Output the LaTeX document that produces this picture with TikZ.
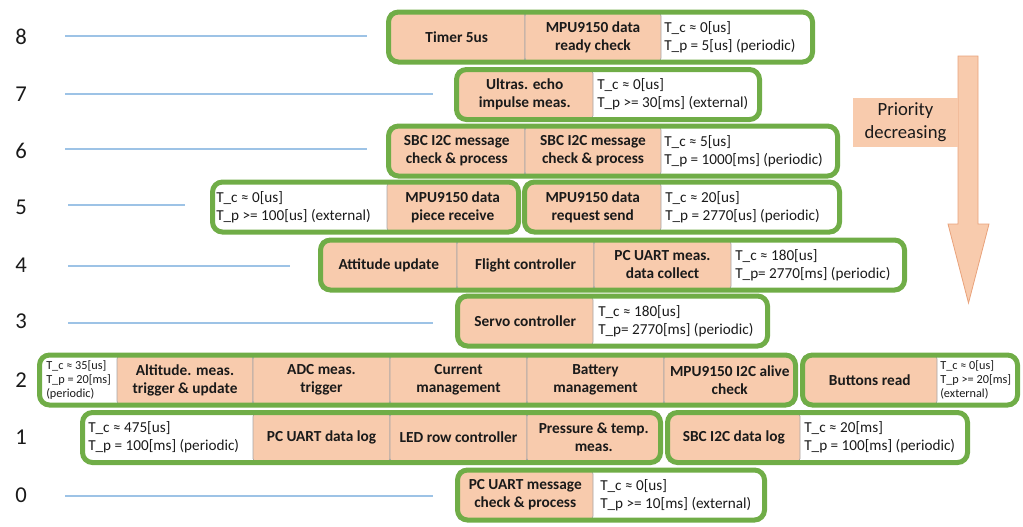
\documentclass[tikz,border=0pt]{standalone}
\usepackage{fontspec}
\setmainfont{Carlito}
\usetikzlibrary{calc}
\definecolor{gborder}{HTML}{70AD47}
\definecolor{ofill}{HTML}{F8CBAD}
\definecolor{oborder}{HTML}{E9A27B}
\definecolor{cdiv}{HTML}{A6A6A6}
\definecolor{bline}{HTML}{9DC3E6}
\definecolor{txt}{HTML}{1A1A1A}
\newcommand\MyCell[5]{%
  \pgfmathsetlengthmacro\mycw{(#3-#2)*0.75pt}%
  \node[cellbox, minimum width=\mycw] (#1) at ({(#2+#3)/2},#4) {#5};%
}
\newcommand\MyRow[4]{%
  \pgfmathsetlengthmacro\mybw{(#3-#2-5)*0.75pt}%
  \node[rowbox, minimum width=\mybw] (#1) at ({(#2+#3)/2},#4) {};%
}
\begin{document}
\begin{tikzpicture}[x=0.75pt,y=-0.75pt,
  cellbox/.style={fill=ofill, draw=cdiv, line width=0.5pt, rounded corners=3pt,
    minimum height=37.5pt, inner sep=0pt, align=center, text=txt,
    font=\fontsize{11.5}{13.5}\selectfont\bfseries},
  rowbox/.style={draw=gborder, line width=3.75pt, rounded corners=7.5pt,
    minimum height=37.5pt, inner sep=0pt},
  info/.style={anchor=west, align=left, inner sep=0pt, text=txt,
    font=\fontsize{11.4}{13.6}\selectfont},
  smallinfo/.style={anchor=west, align=left, inner sep=0pt, text=txt,
    font=\fontsize{9.2}{10.6}\selectfont},
  rowlabel/.style={inner sep=0pt, text=txt, font=\fontsize{17}{20}\selectfont},
  level/.style={draw=bline, line width=0.8pt}
]
\useasboundingbox (0,0) rectangle (1023,526);

% ---------- level lines ----------
\draw[level] (65,36) -- (367,36);
\draw[level] (65,94) -- (433,94);
\draw[level] (65,149) -- (367,149);
\draw[level] (68,205) -- (185,205);
\draw[level] (68,266) -- (290,266);
\draw[level] (68,323) -- (433,323);
\draw[level] (65,496) -- (433,496);

% ---------- row labels ----------
\node[rowlabel] (l8) at (21,37) {8};
\node[rowlabel] (l7) at (21,94.5) {7};
\node[rowlabel] (l6) at (21,151) {6};
\node[rowlabel] (l5) at (21,207) {5};
\node[rowlabel] (l4) at (21,265) {4};
\node[rowlabel] (l3) at (21,321) {3};
\node[rowlabel] (l2) at (21,380) {2};
\node[rowlabel] (l1) at (21,437.5) {1};
\node[rowlabel] (l0) at (21,495) {0};

% ---------- orange cells ----------
% row 8
\MyCell{c8a}{388.5}{525}{37}{Timer 5us}
\MyCell{c8b}{525}{661}{37}{MPU9150 data\\ready check}
% row 7
\MyCell{c7a}{456.5}{593}{94.5}{Ultras. echo\\impulse meas.}
% row 6
\MyCell{c6a}{388.5}{525}{151}{SBC I2C message\\check \& process}
\MyCell{c6b}{525}{661}{151}{SBC I2C message\\check \& process}
% row 5
\MyCell{c5a}{387}{518.5}{207}{MPU9150 data\\piece receive}
\MyCell{c5b}{524.5}{661}{207}{MPU9150 data\\request send}
% row 4
\MyCell{c4a}{320.5}{457}{265}{Attitude update}
\MyCell{c4b}{457}{594}{265}{Flight controller}
\MyCell{c4c}{594}{731}{265}{PC UART meas.\\data collect}
% row 3
\MyCell{c3a}{457.5}{593}{321}{Servo controller}
% row 2
\MyCell{c2a}{117}{253}{380}{Altitude. meas.\\trigger \& update}
\MyCell{c2b}{253}{390}{380}{ADC meas.\\trigger}
\MyCell{c2c}{390}{527}{380}{Current\\management}
\MyCell{c2d}{527}{664}{380}{Battery\\management}
\MyCell{c2e}{664}{795.5}{380}{MPU9150 I2C alive\\check}
\MyCell{c2f}{802.5}{937}{380}{Buttons read}
% row 1
\MyCell{c1a}{253}{390}{437.5}{PC UART data log}
\MyCell{c1b}{390}{527}{437.5}{LED row controller}
\MyCell{c1c}{527}{660.5}{437.5}{Pressure \& temp.\\meas.}
\MyCell{c1d}{667.5}{800}{437.5}{SBC I2C data log}
% row 0
\MyCell{c0a}{457.5}{593}{495}{PC UART message\\check \& process}

% ---------- green row frames ----------
\MyRow{r8}{386}{815}{37}
\MyRow{r7}{454}{762}{94.5}
\MyRow{r6}{386}{840}{151}
\MyRow{r5a}{210}{521}{207}
\MyRow{r5b}{522}{842}{207}
\MyRow{r4}{318}{907}{265}
\MyRow{r3}{455}{770}{321}
\MyRow{r2a}{37}{798}{380}
\MyRow{r2b}{800}{1020}{380}
\MyRow{r1a}{80}{663}{437.5}
\MyRow{r1b}{665}{970}{437.5}
\MyRow{r0}{455}{767}{495}

% ---------- timing texts ----------
\node[info] (t8) at (664,37) {T\_c ≈ 0[us]\\T\_p = 5[us] (periodic)};
\node[info] (t7) at (597,94.5) {T\_c ≈ 0[us]\\T\_p >= 30[ms] (external)};
\node[info] (t6) at (664,151) {T\_c ≈ 5[us]\\T\_p = 1000[ms] (periodic)};
\node[info] (t5a) at (216,207) {T\_c ≈ 0[us]\\T\_p >= 100[us] (external)};
\node[info] (t5b) at (665,207) {T\_c ≈ 20[us]\\T\_p = 2770[us] (periodic)};
\node[info] (t4) at (735,265) {T\_c ≈ 180[us]\\T\_p= 2770[ms] (periodic)};
\node[info] (t3) at (598,321) {T\_c ≈ 180[us]\\T\_p= 2770[ms] (periodic)};
\node[smallinfo] (t2a) at (46,380) {T\_c ≈ 35[us]\\T\_p = 20[ms]\\(periodic)};
\node[smallinfo] (t2b) at (940,380) {T\_c ≈ 0[us]\\T\_p >= 20[ms]\\(external)};
\node[info] (t1a) at (88,437.5) {T\_c ≈ 475[us]\\T\_p = 100[ms] (periodic)};
\node[info] (t1b) at (804,437.5) {T\_c ≈ 20[ms]\\T\_p = 100[ms] (periodic)};
\node[info] (t0) at (600,495) {T\_c ≈ 0[us]\\T\_p >= 10[ms] (external)};

% ---------- priority arrow ----------
\draw[fill=ofill, draw=oborder, line width=0.6pt]
  (958,56) -- (978,56) -- (978,224) -- (989,224) -- (968.5,303)
  -- (948,224) -- (958,224) -- cycle;
\node[fill=ofill, inner sep=0pt, minimum width=78.75pt, minimum height=36.75pt,
  align=center, text=txt, font=\fontsize{14}{17}\selectfont] (prio)
  at (905.5,122.5) {Priority\\decreasing};
\end{tikzpicture}
\end{document}
